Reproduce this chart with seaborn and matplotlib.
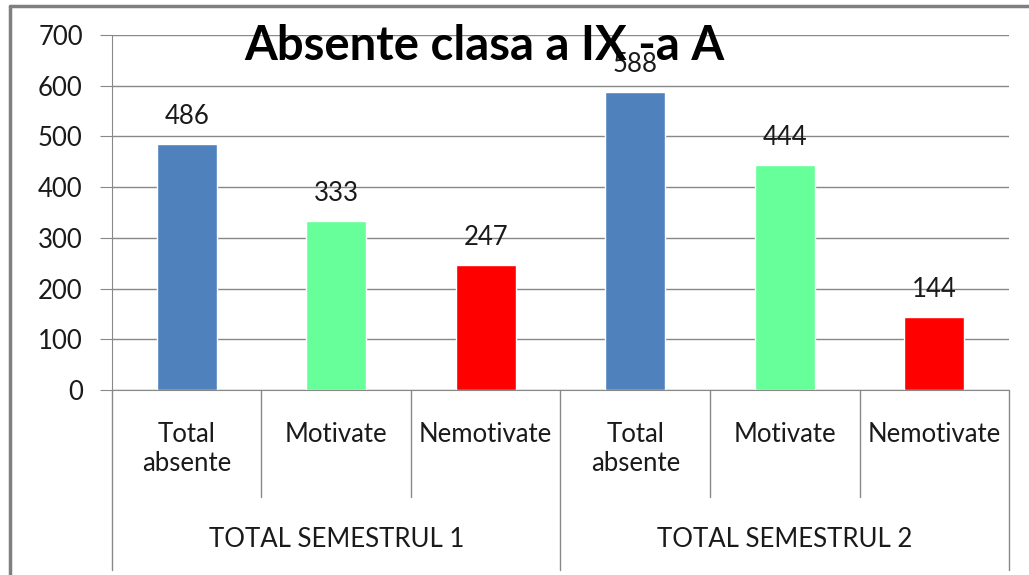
import pandas as pd
import seaborn as sns
import matplotlib.pyplot as plt
from matplotlib.lines import Line2D

# chart values
categories = ['Total\nabsente', 'Motivate', 'Nemotivate', 'Total\nabsente', 'Motivate', 'Nemotivate']
values = [486, 333, 247, 588, 444, 144]
groups = ['TOTAL SEMESTRUL 1', 'TOTAL SEMESTRUL 2']
colors = ['#4F81BD', '#66FF99', '#FF0000', '#4F81BD', '#66FF99', '#FF0000']

df = pd.DataFrame({'pos': range(len(values)), 'value': values})

sns.set_style('white')
plt.rcParams['font.family'] = ['Lato', 'DejaVu Sans']

fig = plt.figure(figsize=(10.29, 5.75), dpi=100)
ax = fig.add_axes([0.1088, 0.3217, 0.8718, 0.6174])

sns.barplot(data=df, x='pos', y='value', hue='pos', palette=colors,
            legend=False, width=0.4, saturation=1, ax=ax)

fs = 18.5
txt_c = '#1a1a1a'
grid_c = '#888888'
ax.set_ylim(0, 700)
ax.set_xlim(-0.5, 5.5)
ax.set_yticks(range(0, 701, 100))
ax.yaxis.grid(True, color=grid_c, linewidth=1)
ax.set_axisbelow(True)
for s in ['top', 'right']:
    ax.spines[s].set_visible(False)
ax.spines['left'].set_color(grid_c)
ax.spines['bottom'].set_color(grid_c)
ax.tick_params(axis='y', left=True, length=9, color=grid_c, labelsize=fs,
               labelcolor=txt_c, pad=12)
ax.set_xticks(range(len(categories)))
ax.set_xticklabels(categories, fontsize=fs, linespacing=1.22, color=txt_c)
ax.tick_params(axis='x', length=0, pad=23)
ax.set_xlabel('')
ax.set_ylabel('')

# value labels
for i, v in enumerate(values):
    ax.text(i, v + 54, str(v), ha='center', va='center', fontsize=fs, color=txt_c)

# multi-level axis separators
tr = ax.get_xaxis_transform()
for k in range(len(values) + 1):
    bottom = -0.507 if k % 3 == 0 else -0.301
    ax.add_line(Line2D([k - 0.5, k - 0.5], [0, bottom], transform=tr,
                       color=grid_c, linewidth=1, clip_on=False))
for g, name in enumerate(groups):
    ax.text(g * 3 + 1, -0.42, name, transform=tr, ha='center', va='center',
            fontsize=fs, color=txt_c)

# title over plot
fig.text(0.471, 0.92, 'Absente clasa a IX -a A', ha='center', va='center',
         fontsize=34, fontweight='bold', color='black')

# chart frame
fig.add_artist(Line2D([0.0097, 0.0097], [0, 0.9896], transform=fig.transFigure,
                      color='#7f7f7f', linewidth=2.5))
fig.add_artist(Line2D([0.0097, 1.0], [0.9896, 0.9896], transform=fig.transFigure,
                      color='#7f7f7f', linewidth=2.5))

fig.savefig('out.png', dpi=100)
